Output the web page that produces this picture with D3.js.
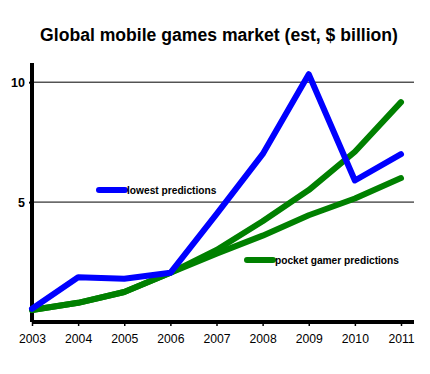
<!DOCTYPE html>
<html>
<head>
<meta charset="utf-8">
<script src="https://cdn.jsdelivr.net/npm/d3@7"></script>
<style>
  body { margin: 0; background: #fff; }
  text { font-family: "Liberation Sans", Arial, sans-serif; }
</style>
</head>
<body>
<script>
// data
var years = [2003, 2004, 2005, 2006, 2007, 2008, 2009, 2010, 2011];
var lowest = [0.55, 1.87, 1.8, 2.05, 4.5, 7.0, 10.33, 5.9, 7.0];
var pocketHigh = [0.5, 0.8, 1.25, 2.05, 3.0, 4.2, 5.5, 7.1, 9.17];
var pocketLow = [0.5, 0.8, 1.25, 2.05, 2.85, 3.6, 4.45, 5.15, 6.0];
var yTicks = [5, 10];

var width = 430, height = 374;
var margin = {left: 32, right: 29, top: 63, bottom: 52};

var svg = d3.select("body").append("svg")
    .attr("width", width)
    .attr("height", height);

var x = d3.scalePoint().domain(years).range([margin.left, 401]);
var y = d3.scaleLinear().domain([0, 10.8]).range([height - margin.bottom, margin.top]);

// title
svg.append("text")
    .attr("x", 219).attr("y", 41)
    .attr("text-anchor", "middle")
    .style("font-size", "17.6px").style("font-weight", "bold")
    .text("Global mobile games market (est, $ billion)");

// grid lines at 5 and 10
svg.append("g").selectAll("line")
    .data(yTicks)
    .enter().append("line")
    .attr("x1", margin.left).attr("x2", 414)
    .attr("y1", function(d) { return y(d); })
    .attr("y2", function(d) { return y(d); })
    .attr("stroke", "#000").attr("stroke-width", 1);

// y axis
var yAxis = svg.append("g")
    .attr("transform", "translate(" + margin.left + ",0)")
    .call(d3.axisLeft(y).tickValues(yTicks).tickSize(3).tickFormat(d3.format("d")));
yAxis.select(".domain").attr("stroke-width", 4).attr("d", "M0," + y(0) + "V" + margin.top);
yAxis.selectAll(".tick line").attr("stroke-width", 2);
yAxis.selectAll(".tick text")
    .style("font-size", "12.5px").style("font-weight", "bold")
    .attr("x", -7).attr("fill", "#000");

// x axis
var xAxis = svg.append("g")
    .attr("transform", "translate(0," + y(0) + ")")
    .call(d3.axisBottom(x).tickSize(4).tickPadding(8));
xAxis.select(".domain").attr("stroke-width", 4).attr("d", "M" + margin.left + ",0H" + 414);
xAxis.selectAll(".tick line").attr("stroke-width", 1.5);
xAxis.selectAll(".tick text").style("font-size", "12.2px").attr("fill", "#000");

var line = d3.line()
    .x(function(d, i) { return x(years[i]); })
    .y(function(d) { return y(d); });

var series = [
    {values: pocketLow, color: "#008000"},
    {values: pocketHigh, color: "#008000"},
    {values: lowest, color: "#0000ff"}
];

svg.append("g").selectAll("path")
    .data(series)
    .enter().append("path")
    .attr("d", function(d) { return line(d.values); })
    .attr("fill", "none")
    .attr("stroke", function(d) { return d.color; })
    .attr("stroke-width", 6)
    .attr("stroke-linejoin", "round")
    .attr("stroke-linecap", "round");

// legend labels
var legend = [
    {label: "lowest predictions", color: "#0000ff", x: 99, y: 190},
    {label: "pocket gamer predictions", color: "#008000", x: 247, y: 260}
];
var lg = svg.append("g").selectAll("g")
    .data(legend)
    .enter().append("g")
    .attr("transform", function(d) { return "translate(" + d.x + "," + d.y + ")"; });
lg.append("line")
    .attr("x1", 0).attr("x2", 26)
    .attr("stroke", function(d) { return d.color; })
    .attr("stroke-width", 6).attr("stroke-linecap", "round");
lg.append("text")
    .attr("x", 28).attr("dy", "0.35em")
    .style("font-size", "10.2px").style("font-weight", "bold")
    .text(function(d) { return d.label; });
</script>
</body>
</html>
